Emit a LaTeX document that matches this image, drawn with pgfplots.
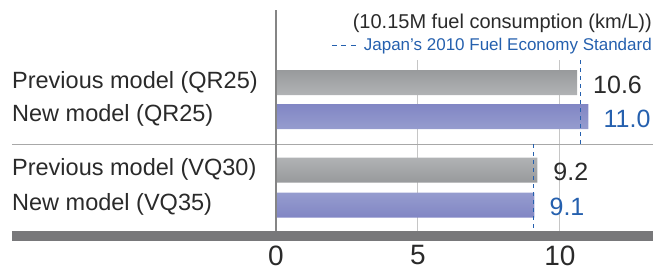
\documentclass[border=0pt]{standalone}
\usepackage{pgfplots}
\pgfplotsset{compat=1.18}
\usepackage{fontspec}
\setmainfont{Liberation Sans}
\definecolor{barG1}{HTML}{989A9C}
\definecolor{barG2}{HTML}{D0D2D4}
\definecolor{barB1}{HTML}{8186C4}
\definecolor{barB2}{HTML}{B0B8DC}
\definecolor{axisG}{HTML}{858585}
\definecolor{gridG}{HTML}{C6C6C6}
\definecolor{sepG}{HTML}{A8A8A8}
\definecolor{bandG}{HTML}{78787A}
\definecolor{numB}{HTML}{2560AE}
\definecolor{txt}{HTML}{2A2A2A}
\begin{document}
\begin{tikzpicture}
\begin{axis}[
  scale only axis, width=377pt, height=231pt,
  xmin=0, xmax=13.275, ymin=10, ymax=241, y dir=reverse,
  axis line style={draw=none}, major tick length=0pt,
  xtick={0,5,10}, ytick=\empty,
  /pgf/number format/assume math mode=true,
  xticklabel style={font=\fontsize{28}{28}\selectfont, text=txt, yshift=-1pt},
  clip=false,
]
% bounding box
\path (axis cs:-9.718,0) rectangle (axis cs:13.803,273);
% grid lines
\addplot[gridG, line width=1pt] coordinates {(5,60) (5,231)};
\addplot[gridG, line width=1pt] coordinates {(10,60) (10,231)};
% separator and bottom band
\addplot[sepG, line width=1pt] coordinates {(-9.296,144) (13.275,144)};
\addplot[bandG, line width=10pt] coordinates {(-9.296,236) (13.275,236)};
% bars
\addplot[xbar, bar width=25, draw=none, top color=barG1, bottom color=barG1, middle color=barG2,
  point meta=explicit symbolic, nodes near coords,
  nodes near coords style={anchor=west, inner sep=0pt, xshift=16pt, yshift=-2pt, text=txt, font=\fontsize{25}{25}\selectfont}]
  coordinates {(10.6,82.5) [10.6] (9.2,170) [9.2]};
\addplot[xbar, bar width=25, draw=none, top color=barB1, bottom color=barB1, middle color=barB2,
  point meta=explicit symbolic, nodes near coords,
  nodes near coords style={anchor=west, inner sep=0pt, xshift=15pt, yshift=-2pt, text=numB, font=\fontsize{25}{25}\selectfont}]
  coordinates {(11.0,116.5) [11.0] (9.1,205) [9.1]};
% standard dashed lines
\addplot[numB, line width=0.9pt, dash pattern=on 4pt off 4pt] coordinates {(10.73,60) (10.73,144)};
\addplot[numB, line width=0.9pt, dash pattern=on 4pt off 4pt] coordinates {(9.07,144) (9.07,231)};
% vertical axis line
\addplot[axisG, line width=2pt] coordinates {(0,10) (0,231)};
% category labels
\node[anchor=base west, inner sep=0pt, text=txt, font=\fontsize{23.5}{23.5}\selectfont] at (axis cs:-9.296,88.5) {Previous model (QR25)};
\node[anchor=base west, inner sep=0pt, text=txt, font=\fontsize{23.5}{23.5}\selectfont] at (axis cs:-9.296,121.7) {New model (QR25)};
\node[anchor=base west, inner sep=0pt, text=txt, font=\fontsize{23.5}{23.5}\selectfont] at (axis cs:-9.296,175) {Previous model (VQ30)};
\node[anchor=base west, inner sep=0pt, text=txt, font=\fontsize{23.5}{23.5}\selectfont] at (axis cs:-9.296,210) {New model (VQ35)};
% header and legend
\node[anchor=base east, inner sep=0pt, text=txt, font=\fontsize{20}{20}\selectfont] at (axis cs:13.24,28.5) {(10.15M fuel consumption (km/L))};
\addplot[numB, line width=0.9pt, dash pattern=on 5pt off 4.5pt] coordinates {(1.972,45) (2.817,45)};
\node[anchor=base east, inner sep=0pt, text=numB, font=\fontsize{17}{17}\selectfont] at (axis cs:13.24,50) {Japan's 2010 Fuel Economy Standard};
\end{axis}
\end{tikzpicture}
\end{document}
